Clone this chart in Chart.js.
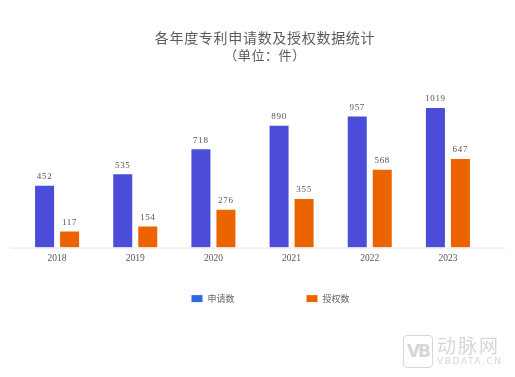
<!DOCTYPE html>
<html>
<head>
<meta charset="utf-8">
<script src="https://cdn.jsdelivr.net/npm/chart.js@4"></script>
<style>
  html, body { margin: 0; padding: 0; background: #fff; }
  #wrap { position: relative; width: 515px; height: 377px; overflow: hidden; }
  .ttl { position: absolute; left: 0; width: 530px; text-align: center; color: #5a5a5a;
    font-family: "Noto Sans CJK SC", sans-serif; white-space: nowrap; }
  #title { top: 28px; font-size: 14px; line-height: 18px; letter-spacing: 0.7px; }
  #subtitle { top: 47px; font-size: 13px; line-height: 16px; letter-spacing: 0.6px; }
  #wm { position: absolute; left: 403px; top: 335px; color: #d6d6d6; font-family: "Noto Sans CJK SC", sans-serif; }
  #wm .logo { position: absolute; left: 0; top: 0; width: 28px; height: 31px; border: 1.5px solid #d6d6d6; border-radius: 4px;
    font: bold 17px "DejaVu Sans"; line-height: 31px; text-align: center; letter-spacing: -2px; }
  #wm .cn { position: absolute; left: 34px; top: -4px; font-size: 19px; letter-spacing: 2px; white-space: nowrap; }
  #wm .en { position: absolute; left: 34px; top: 21px; font: 9px "DejaVu Sans"; letter-spacing: 1.6px; white-space: nowrap; }
</style>
</head>
<body>
<div id="wrap">
  <canvas id="myChart" width="515" height="377"></canvas>
  <div class="ttl" id="title">各年度专利申请数及授权数据统计</div>
  <div class="ttl" id="subtitle">（单位：件）</div>
  <div id="wm"><div class="logo">VB</div><div class="cn">动脉网</div><div class="en">VBDATA.CN</div></div>
</div>
<script>
let years = ['2018', '2019', '2020', '2021', '2022', '2023']
let applied = [452, 535, 718, 890, 957, 1019]
let granted = [117, 154, 276, 355, 568, 647]
let seriesNames = ['申请数', '授权数']

let serif = '"Liberation Serif", "DejaVu Serif", serif'
let cjk = '"Noto Sans CJK SC", sans-serif'

// value labels above each bar
let valueLabels = {
    id: 'valueLabels',
    afterDatasetsDraw(chart) {
        let ctx = chart.ctx
        ctx.save()
        ctx.font = '9px ' + serif
        ctx.letterSpacing = '0.7px'
        ctx.fillStyle = '#555'
        ctx.textAlign = 'center'
        ctx.textBaseline = 'middle'
        chart.data.datasets.forEach((ds, i) => {
            chart.getDatasetMeta(i).data.forEach((bar, j) => {
                ctx.fillText(ds.data[j], bar.x, bar.y - 9)
            })
        })
        ctx.restore()
    }
}

// long light baseline and the legend under the axis
let extras = {
    id: 'extras',
    afterDraw(chart) {
        let ctx = chart.ctx
        let area = chart.chartArea
        ctx.save()
        ctx.strokeStyle = '#e4e4ec'
        ctx.lineWidth = 1
        ctx.beginPath()
        ctx.moveTo(area.left - 8, area.bottom + 0.5)
        ctx.lineTo(area.right + 18, area.bottom + 0.5)
        ctx.stroke()

        ctx.font = '9px ' + cjk
        ctx.textBaseline = 'middle'
        let colors = ['#2a69e2', '#ee6200']
        let gap = 72
        let widths = seriesNames.map(n => 11 + 5 + ctx.measureText(n).width)
        let total = widths.reduce((a, b) => a + b, 0) + gap * (widths.length - 1)
        let x = (area.left + area.right) / 2 + 18 - total / 2
        let y = area.bottom + 51
        seriesNames.forEach((n, i) => {
            ctx.fillStyle = colors[i]
            ctx.fillRect(x, y - 3.5, 11, 7)
            ctx.fillStyle = '#666'
            ctx.fillText(n, x + 16, y)
            x += widths[i] + gap
        })
        ctx.restore()
    }
}

let myChart = document.getElementById('myChart').getContext('2d')

let patentChart = new Chart(myChart, {
    type: 'bar',
    data: {
        labels: years,
        datasets: [{
            label: seriesNames[0],
            data: applied,
            backgroundColor: '#4b4dd8',
            categoryPercentage: 0.64,
            barPercentage: 0.76
        }, {
            label: seriesNames[1],
            data: granted,
            backgroundColor: '#ec6400',
            categoryPercentage: 0.64,
            barPercentage: 0.76
        }]
    },
    options: {
        responsive: false,
        animation: false,
        layout: {
            padding: { top: 86, left: 18, right: 28, bottom: 108 }
        },
        plugins: {
            legend: { display: false },
            tooltip: { enabled: false }
        },
        scales: {
            x: {
                grid: { display: false, drawTicks: false },
                border: { display: false },
                ticks: {
                    color: '#555',
                    padding: 5,
                    font: { family: serif, size: 9.5 }
                }
            },
            y: {
                display: false,
                min: 0,
                max: 1180
            }
        }
    },
    plugins: [valueLabels, extras]
})
</script>
</body>
</html>
